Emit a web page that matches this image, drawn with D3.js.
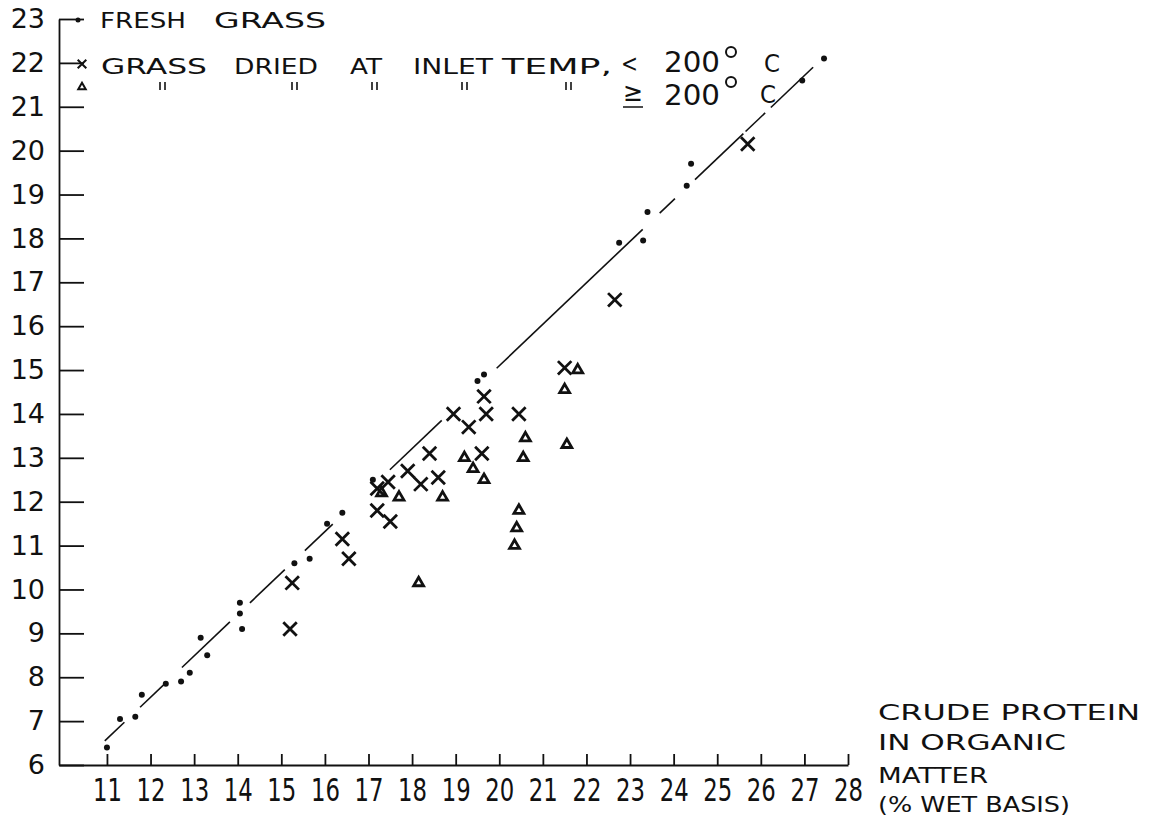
<!DOCTYPE html>
<html>
<head>
<meta charset="utf-8">
<script src="https://cdn.jsdelivr.net/npm/d3@7/dist/d3.min.js"></script>
<style>
  body { margin: 0; background: #fff; }
  svg { display: block; }
  text { font-family: "DejaVu Sans", sans-serif; fill: #111; }
</style>
</head>
<body>
<svg id="chart" width="1159" height="821"></svg>
<script>
// tick labels
var xTicks = [11,12,13,14,15,16,17,18,19,20,21,22,23,24,25,26,27,28];
var yTicks = [6,7,8,9,10,11,12,13,14,15,16,17,18,19,20,21,22,23];

// fresh grass (dots)
var freshGrass = [
  [11.0,6.4],[11.3,7.05],[11.65,7.1],[11.8,7.6],[12.35,7.85],[12.7,7.9],[12.9,8.1],
  [13.15,8.9],[13.3,8.5],[14.05,9.7],[14.05,9.45],[14.1,9.1],[15.3,10.6],[15.65,10.7],
  [16.05,11.5],[16.4,11.75],[17.1,12.5],[19.5,14.75],[19.65,14.9],[22.75,17.9],
  [23.3,17.95],[23.4,18.6],[24.3,19.2],[24.4,19.7],[26.95,21.6],[27.45,22.1]
];
// dried, inlet temp < 200 C (crosses)
var driedBelow200 = [
  [15.25,10.15],[15.2,9.1],[16.4,11.15],[16.55,10.7],[17.2,11.8],[17.5,11.55],
  [17.2,12.3],[17.45,12.45],[17.9,12.7],[18.2,12.4],[18.4,13.1],[18.6,12.55],
  [18.95,14.0],[19.3,13.7],[19.65,14.4],[19.7,14.0],[19.6,13.1],[20.45,14.0],
  [21.5,15.05],[22.65,16.6],[25.7,20.15]
];
// dried, inlet temp >= 200 C (triangles)
var driedAbove200 = [
  [17.3,12.2],[17.7,12.1],[18.7,12.1],[18.15,10.15],[19.2,13.0],[19.4,12.75],
  [19.65,12.5],[20.6,13.45],[20.55,13.0],[20.45,11.8],[20.4,11.4],[20.35,11.0],
  [21.8,15.0],[21.5,14.55],[21.55,13.3]
];
// fitted line: end points and the drawn pieces (x ranges)
var fitEnds = [[10.95,6.55],[27.2,21.9]];
var fitPieces = [[10.95,11.4],[11.76,12.33],[12.72,13.82],[14.28,15.08],[15.54,16.18],
  [17.49,18.68],[19.94,23.29],[23.68,24.03],[24.49,25.6],[25.65,26.1],[26.23,27.2]];

var svg = d3.select("#chart");
var x = d3.scaleLinear().domain([9.9, 28]).range([59, 848]);
var y = d3.scaleLinear().domain([6, 23]).range([765, 19]);

// axes
var gy = svg.append("g").attr("transform","translate(59,0)")
  .call(d3.axisLeft(y).tickValues(yTicks).tickSizeInner(-25).tickSizeOuter(0).tickPadding(14));
gy.selectAll("text").style("font-size","27px").attr("font-family",null);

var gx = svg.append("g").attr("transform","translate(0,765)")
  .call(d3.axisBottom(x).tickValues(xTicks).tickSizeInner(-11).tickSizeOuter(0).tickPadding(13));
gx.selectAll("text").style("font-size","32px").attr("font-family",null)
  .attr("textLength",29).attr("lengthAdjust","spacingAndGlyphs");

svg.selectAll(".domain, .tick line").attr("stroke","#111").attr("stroke-width",1.8);
svg.selectAll(".tick text").attr("fill","#111");

// fitted line
var fy = d3.scaleLinear().domain([fitEnds[0][0], fitEnds[1][0]]).range([fitEnds[0][1], fitEnds[1][1]]);
svg.append("g").selectAll("line").data(fitPieces).join("line")
  .attr("x1", function(d){ return x(d[0]); })
  .attr("y1", function(d){ return y(fy(d[0])); })
  .attr("x2", function(d){ return x(d[1]); })
  .attr("y2", function(d){ return y(fy(d[1])); })
  .attr("stroke","#111").attr("stroke-width",1.6);

// points
svg.append("g").selectAll("circle").data(freshGrass).join("circle")
  .attr("cx", function(d){ return x(d[0]); })
  .attr("cy", function(d){ return y(d[1]); })
  .attr("r", 3).attr("fill","#111");

var cross = d3.symbol(d3.symbolX, 120);
svg.append("g").selectAll("path").data(driedBelow200).join("path")
  .attr("d", cross)
  .attr("transform", function(d){ return "translate(" + x(d[0]) + "," + y(d[1]) + ")"; })
  .attr("fill","none").attr("stroke","#111").attr("stroke-width",2.8);

var tri = d3.symbol(d3.symbolTriangle2, 70);
svg.append("g").selectAll("path").data(driedAbove200).join("path")
  .attr("d", tri)
  .attr("transform", function(d){ return "translate(" + x(d[0]) + "," + y(d[1]) + ")"; })
  .attr("fill","none").attr("stroke","#111").attr("stroke-width",2.8);

// legend
var leg = svg.append("g");
leg.append("circle").attr("cx",78).attr("cy",20).attr("r",2.5).attr("fill","#111");
leg.append("path").attr("d", d3.symbol(d3.symbolX, 50))
  .attr("transform","translate(82,64)").attr("fill","none").attr("stroke","#111").attr("stroke-width",2);
leg.append("path").attr("d", d3.symbol(d3.symbolTriangle2, 40))
  .attr("transform","translate(82,87)").attr("fill","none").attr("stroke","#111").attr("stroke-width",2);

function word(t, x0, yb, len, size) {
  leg.append("text").attr("x", x0).attr("y", yb).text(t)
    .style("font-size", (size || 21) + "px")
    .attr("textLength", len).attr("lengthAdjust","spacingAndGlyphs");
}
word("FRESH", 100, 28, 86);
word("GRASS", 214, 28, 112);
word("GRASS", 101, 74, 106);
word("DRIED", 234, 74, 84);
word("AT", 350, 74, 32);
word("INLET", 413, 74, 80);
word("TEMP,", 502, 74, 110);
word("<", 621, 72, 17, 24);
word("200", 664, 72, 56, 28);
word("C", 764, 72, 16, 24);
word("\u2265", 623, 101, 20, 26);
word("200", 664, 105, 56, 28);
word("C", 760, 103, 16, 24);
leg.append("line").attr("x1",623).attr("x2",643).attr("y1",107).attr("y2",107)
  .attr("stroke","#111").attr("stroke-width",1.5);
[[731,52],[731,82]].forEach(function(p){
  leg.append("circle").attr("cx",p[0]).attr("cy",p[1]).attr("r",5)
    .attr("fill","none").attr("stroke","#111").attr("stroke-width",2);
});
// ditto marks
[160,292,372,462,566].forEach(function(px){
  [0,5].forEach(function(dx){
    leg.append("line").attr("x1",px+dx).attr("x2",px+dx).attr("y1",82).attr("y2",90)
      .attr("stroke","#111").attr("stroke-width",1.6);
  });
});

// axis title
var title = svg.append("g");
[["CRUDE PROTEIN",720,262],["IN ORGANIC",750,188],["MATTER",783,110],["(% WET BASIS)",812,192]]
  .forEach(function(r){
    title.append("text").attr("x",878).attr("y",r[1]).text(r[0])
      .style("font-size","21px").attr("textLength",r[2]).attr("lengthAdjust","spacingAndGlyphs");
  });
</script>
</body>
</html>
